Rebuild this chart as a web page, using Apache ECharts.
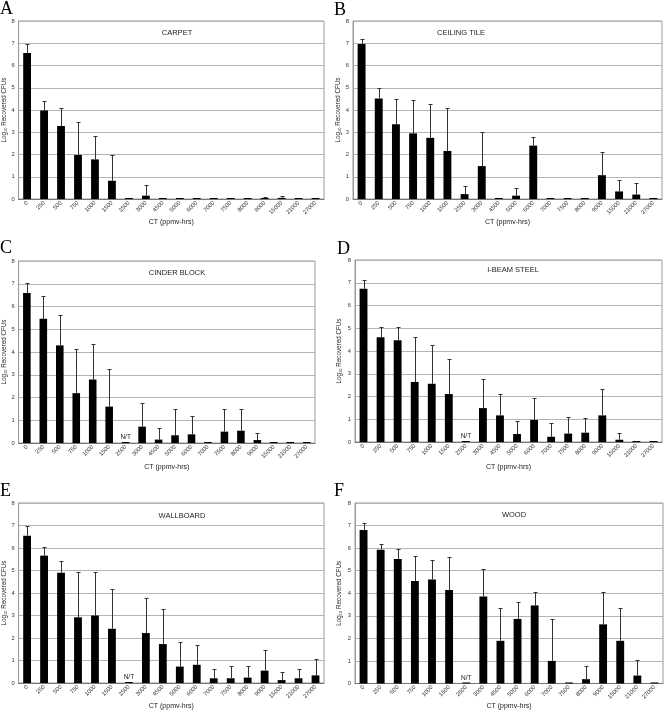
<!DOCTYPE html>
<html>
<head>
<meta charset="utf-8">
<script src="https://cdn.jsdelivr.net/npm/echarts@6/dist/echarts.min.js"></script>
<style>
  html, body { margin: 0; padding: 0; background: #fff; }
  #chart { width: 664px; height: 711px; }
</style>
</head>
<body>
<div id="chart"></div>
<script>
// CT doses (ppmv-hrs), shared by all panels
var categories = ['0', '250', '500', '750', '1000', '1500', '2500', '3000', '4500', '5000',
  '6000', '7000', '7500', '8000', '9000', '15000', '21000', '27000']

var letters = ['A', 'B', 'C', 'D', 'E', 'F']
var materials = ['CARPET', 'CEILING TILE', 'CINDER BLOCK', 'I-BEAM STEEL', 'WALLBOARD', 'WOOD']

// log10 recovered CFUs (null = N/T, not tested)
var carpet = [6.56, 3.98, 3.28, 1.98, 1.78, 0.82, 0, 0.15, 0, 0, 0, 0, 0, 0, 0.03, 0.05, 0, 0]
var ceilingTile = [6.97, 4.52, 3.36, 2.95, 2.75, 2.16, 0.22, 1.48, 0, 0.15, 2.40, 0, 0, 0, 1.07, 0.34, 0.20, 0]
var cinderBlock = [6.59, 5.46, 4.29, 2.19, 2.79, 1.60, null, 0.72, 0.15, 0.34, 0.38, 0, 0.50, 0.54, 0.13, 0, 0, 0]
var iBeamSteel = [6.74, 4.60, 4.47, 2.64, 2.56, 2.11, null, 1.49, 1.17, 0.35, 0.97, 0.23, 0.37, 0.41, 1.17, 0.10, 0, 0]
var wallboard = [6.55, 5.66, 4.90, 2.92, 3.00, 2.41, null, 2.22, 1.73, 0.73, 0.81, 0.21, 0.21, 0.24, 0.55, 0.13, 0.21, 0.34]
var wood = [6.80, 5.93, 5.52, 4.54, 4.61, 4.14, null, 3.86, 1.89, 2.86, 3.46, 1.00, 0, 0.19, 2.62, 1.89, 0.35, 0]

// standard deviations (upper error bar)
var carpetSd = [0.41, 0.44, 0.81, 1.48, 1.07, 1.16, 0, 0.46, 0, 0, 0, 0, 0, 0, 0.06, 0.08, 0, 0]
var ceilingTileSd = [0.23, 0.48, 1.12, 1.50, 1.50, 1.91, 0.35, 1.52, 0, 0.35, 0.38, 0, 0, 0, 1.03, 0.51, 0.52, 0]
var cinderBlockSd = [0.46, 1.02, 1.35, 1.96, 1.54, 1.66, null, 1.04, 0.51, 1.14, 0.79, 0, 0.98, 0.94, 0.31, 0, 0, 0]
var iBeamSteelSd = [0.39, 0.44, 0.57, 1.98, 1.69, 1.55, null, 1.28, 0.94, 0.57, 0.98, 0.61, 0.73, 0.66, 1.17, 0.28, 0, 0]
var wallboardSd = [0.43, 0.38, 0.52, 2.01, 1.93, 1.78, null, 1.56, 1.57, 1.08, 0.86, 0.41, 0.56, 0.53, 0.92, 0.37, 0.43, 0.73]
var woodSd = [0.31, 0.27, 0.44, 1.12, 0.87, 1.47, null, 1.21, 1.47, 0.75, 0.59, 1.86, 0, 0.59, 1.42, 1.44, 0.68, 0]

var yTicks = [0, 8, 1] // min, max, interval

var panelValues = [carpet, ceilingTile, cinderBlock, iBeamSteel, wallboard, wood]
var panelSd = [carpetSd, ceilingTileSd, cinderBlockSd, iBeamSteelSd, wallboardSd, woodSd]

// plot boxes: left, top, width, height, letter pos, title pos, gaps
var layout = [
  { l: 17, t: 21, w: 307, h: 178, lx: 0, ly: 0, tx: 177, ty: 29, yGap: 9, xGap: 20 },
  { l: 353, t: 21, w: 309, h: 178, lx: 334, ly: 1, tx: 461, ty: 29, yGap: 10, xGap: 20 },
  { l: 17, t: 261, w: 298, h: 182, lx: 0, ly: 239, tx: 177, ty: 269, yGap: 9, xGap: 21 },
  { l: 355, t: 260, w: 307, h: 182, lx: 337, ly: 240, tx: 513, ty: 266, yGap: 12, xGap: 22 },
  { l: 16, t: 503, w: 308, h: 180, lx: 0, ly: 482, tx: 182, ty: 512, yGap: 9, xGap: 19 },
  { l: 355, t: 503, w: 308, h: 181, lx: 334, ly: 482, tx: 514, ty: 511, yGap: 12, xGap: 19 }
]

var font = 'Liberation Sans, Arial, sans-serif'

function renderErr(params, api) {
  var v = api.value(1)
  var top = api.value(2)
  if (!(top > v)) {
    return
  }
  var p0 = api.coord([api.value(0), v])
  var p1 = api.coord([api.value(0), top])
  var x = Math.round(p0[0]) + 0.5
  var y1 = Math.round(p1[1]) + 0.5
  var style = { stroke: '#333', lineWidth: 1 }
  return {
    type: 'group',
    children: [{
      type: 'line',
      shape: { x1: x, y1: p0[1], x2: x, y2: y1 },
      style: style
    }, {
      type: 'line',
      shape: { x1: x - 2, y1: y1, x2: x + 2, y2: y1 },
      style: style
    }]
  }
}

var grids = []
var xAxes = []
var yAxes = []
var series = []
var titles = []

layout.forEach(function(p, i) {
  grids.push({
    left: p.l, top: p.t, width: p.w, height: p.h,
    show: true, borderColor: '#9a9a9a', borderWidth: 1, backgroundColor: '#fff'
  })
  xAxes.push({
    type: 'category',
    gridIndex: i,
    data: categories,
    name: 'CT (ppmv-hrs)',
    nameLocation: 'middle',
    nameGap: p.xGap,
    nameTextStyle: { fontSize: 7, color: '#222', fontFamily: font },
    axisLine: { lineStyle: { color: '#777', width: 1 } },
    axisTick: { length: 3, lineStyle: { color: '#777' } },
    axisLabel: { interval: 0, rotate: 45, fontSize: 5.8, color: '#333', margin: 3, fontFamily: font }
  })
  yAxes.push({
    type: 'value',
    gridIndex: i,
    min: yTicks[0],
    max: yTicks[1],
    interval: yTicks[2],
    name: 'Log{s|10} Recovered CFUs',
    nameLocation: 'middle',
    nameGap: p.yGap,
    nameRotate: 90,
    nameTextStyle: {
      fontSize: 6.3, color: '#222', fontFamily: font,
      rich: { s: { fontSize: 4, verticalAlign: 'bottom', padding: [3, 0, 0, 0], fontFamily: font } }
    },
    axisLine: { show: true, lineStyle: { color: '#9a9a9a' } },
    axisTick: { show: false },
    axisLabel: { fontSize: 5.8, color: '#333', margin: 4, fontFamily: font },
    splitLine: { lineStyle: { color: '#b4b4b4', width: 1 } }
  })
  var vals = panelValues[i]
  var sds = panelSd[i]
  series.push({
    type: 'bar',
    xAxisIndex: i,
    yAxisIndex: i,
    barWidth: '46%',
    barMinHeight: 1,
    itemStyle: { color: '#000' },
    data: vals.map(function(v) {
      if (v === null) {
        return {
          value: 0,
          label: {
            show: true, position: 'top', distance: 1, formatter: 'N/T',
            fontSize: 6.5, color: '#222', fontFamily: font
          }
        }
      }
      return v
    }),
    z: 3
  })
  series.push({
    type: 'custom',
    xAxisIndex: i,
    yAxisIndex: i,
    renderItem: renderErr,
    encode: { x: 0, y: [1, 2] },
    data: vals.map(function(v, k) {
      var s = sds[k] || 0
      return [k, v || 0, (v || 0) + s]
    }),
    z: 4
  })
  titles.push({
    text: letters[i],
    left: p.lx,
    top: p.ly,
    padding: 0,
    textStyle: { fontFamily: 'Liberation Serif, Times New Roman, serif', fontWeight: 'normal', fontSize: 18, color: '#000' }
  })
  titles.push({
    text: materials[i],
    left: p.tx,
    top: p.ty,
    textAlign: 'center',
    padding: 0,
    textStyle: { fontFamily: font, fontWeight: 'normal', fontSize: 7.5, color: '#222' }
  })
})

var chart = echarts.init(document.getElementById('chart'), null, { renderer: 'canvas' })
chart.setOption({
  animation: false,
  backgroundColor: '#fff',
  title: titles,
  grid: grids,
  xAxis: xAxes,
  yAxis: yAxes,
  series: series
})
</script>
</body>
</html>
